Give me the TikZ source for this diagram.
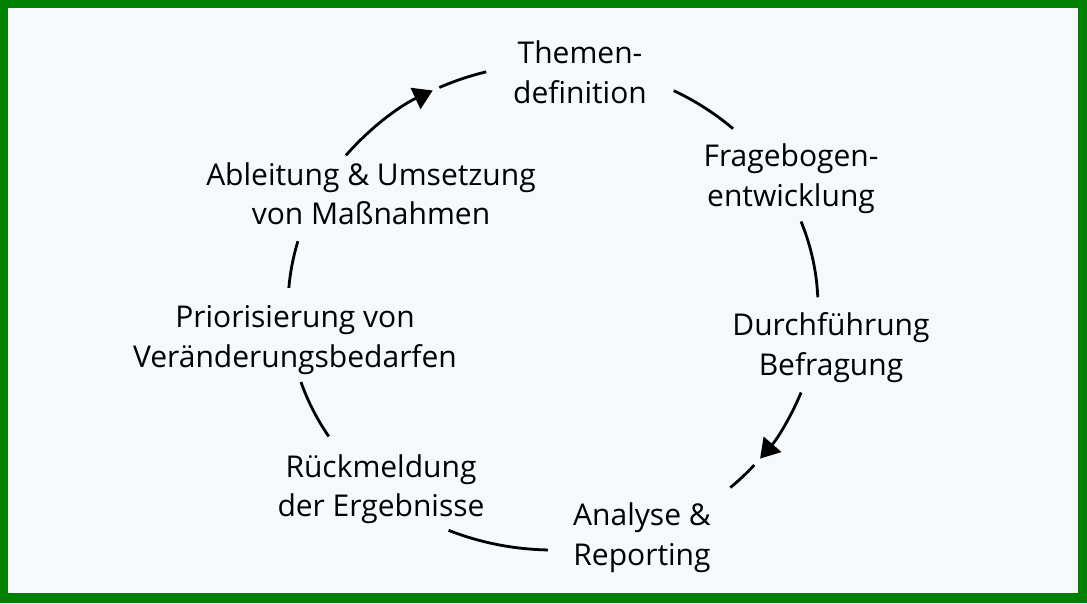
\documentclass[tikz,border=0pt]{standalone}
\usepackage{fontspec}
\setmainfont{Open Sans}
\usetikzlibrary{arrows.meta,calc}
\definecolor{framegreen}{RGB}{0,128,0}
\definecolor{paper}{RGB}{245,249,252}
\begin{document}
\begin{tikzpicture}[x=1pt, y=1pt,
    phase/.style={align=center, inner sep=0pt, font=\fontsize{30}{39.5}\selectfont,
      execute at begin node=\strut, execute at end node=\strut},
    ring/.style={line width=2.8pt},
    ringtip/.style={-{Triangle[length=19pt,width=23pt]}}]
      \fill[framegreen] (0,0) rectangle (1087,603);   % frame
      \fill[paper] (8,10) rectangle (1078,595);
      \useasboundingbox (0,0) rectangle (1087,603);
      %
      \coordinate (c) at (553,296);                   % centre of the cycle
      %
      \node[phase] (theme)    at (580,525)   {Themen-\\definition};
      \node[phase] (quest)    at (791,422)   {Fragebogen-\\entwicklung};
      \node[phase] (survey)   at (831,253)   {Durchführung\\Befragung};
      \node[phase] (report)   at (642,63)    {Analyse \&\\Reporting};
      \node[phase] (feedback) at (381,111.5) {Rückmeldung\\der Ergebnisse};
      \node[phase] (prio)     at (295,260.5) {Priorisierung von\\Veränderungsbedarfen};
      \node[phase] (action)   at (371,403.5) {Ableitung \& Umsetzung\\von Maßnahmen};
      %
      % action -> theme
      \draw[ring,ringtip] ($(c)+(141.4:265pt and 243pt)$) arc[start angle=141.4, end angle=117, x radius=265pt, y radius=243pt];
      \draw[ring] ($(c)+(115.4:265pt and 243pt)$) arc[start angle=115.4, end angle=104.6, x radius=265pt, y radius=243pt];
      % theme -> quest
      \draw[ring] ($(c)+(62.9:265pt and 243pt)$) arc[start angle=62.9, end angle=47.2, x radius=265pt, y radius=243pt];
      % quest -> survey
      \draw[ring] ($(c)+(20.6:265pt and 243pt)$) arc[start angle=20.6, end angle=2.3, x radius=265pt, y radius=243pt];
      % survey -> report
      \draw[ring,ringtip] ($(c)+(-20.6:265pt and 243pt)$) arc[start angle=-20.6, end angle=-38.6, x radius=265pt, y radius=243pt];
      \draw[ring] ($(c)+(-40.6:265pt and 243pt)$) arc[start angle=-40.6, end angle=-48, x radius=265pt, y radius=243pt];
      % report -> feedback
      \draw[ring] ($(c)+(-91.1:265pt and 243pt)$) arc[start angle=-91.1, end angle=-113.2, x radius=265pt, y radius=243pt];
      % feedback -> prio
      \draw[ring] ($(c)+(212.2:265pt and 243pt)$) arc[start angle=212.2, end angle=198, x radius=265pt, y radius=243pt];
      % prio -> action
      \draw[ring] ($(c)+(175.5:265pt and 243pt)$) arc[start angle=175.5, end angle=164.3, x radius=265pt, y radius=243pt];
      %
\end{tikzpicture}
\end{document}
